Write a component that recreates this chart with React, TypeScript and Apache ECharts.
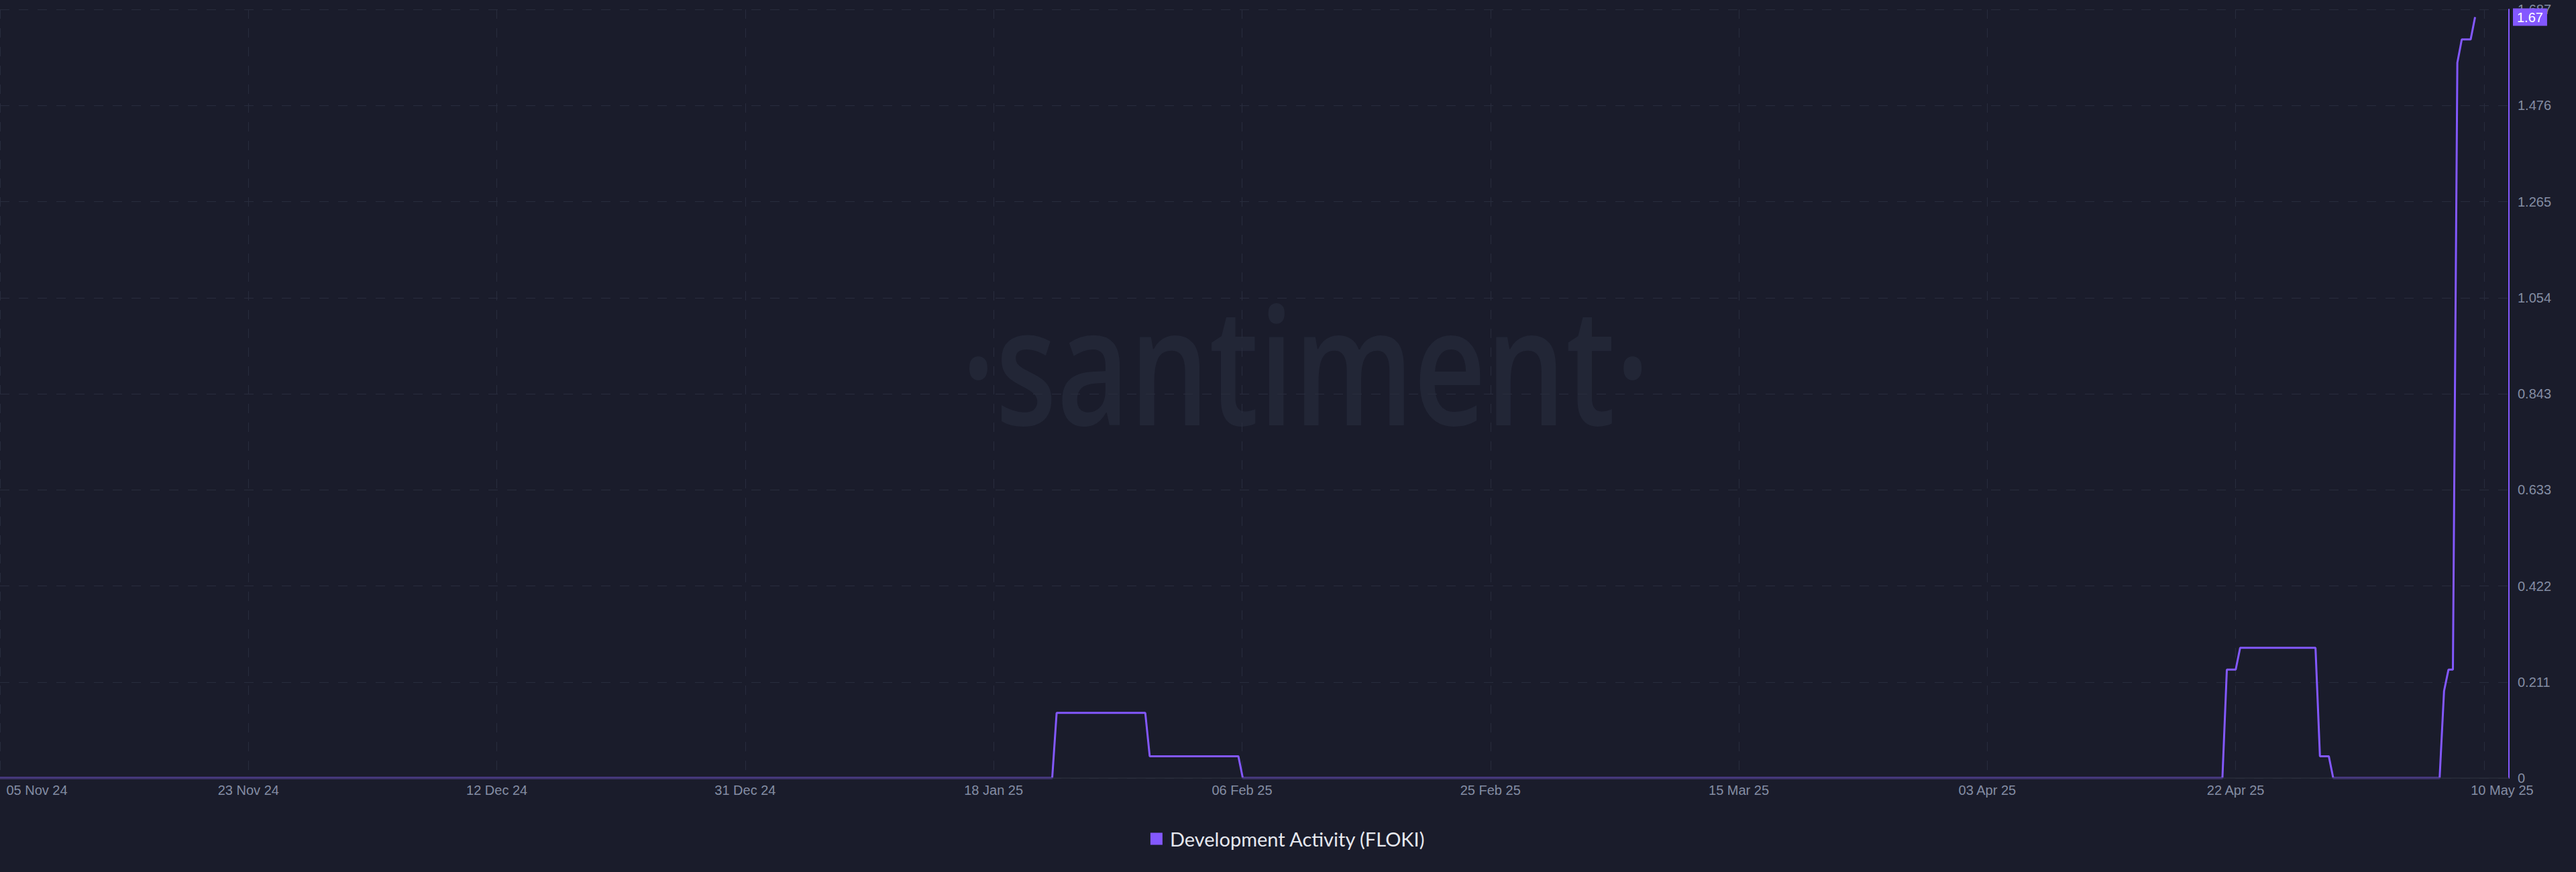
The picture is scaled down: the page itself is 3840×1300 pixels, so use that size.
import React, { useEffect, useRef } from 'react';
import * as echarts from 'echarts';

// ---- data ----
const START = '2024-11-05T00:00:00Z';

const pointTimes = [
  '2024-11-05 00:00',
  '2025-01-23 03:00',
  '2025-01-23 11:00',
  '2025-01-30 03:00',
  '2025-01-30 11:00',
  '2025-02-06 03:00',
  '2025-02-06 11:00',
  '2025-04-21 03:00',
  '2025-04-21 11:00',
  '2025-04-22 03:00',
  '2025-04-22 11:00',
  '2025-04-28 03:00',
  '2025-04-28 11:00',
  '2025-04-29 03:00',
  '2025-04-29 11:00',
  '2025-05-07 11:00',
  '2025-05-07 19:00',
  '2025-05-08 03:00',
  '2025-05-08 11:00',
  '2025-05-08 19:00',
  '2025-05-09 03:00',
  '2025-05-09 19:00',
  '2025-05-10 03:00',
];

const devActivity = [
  0, 0, 0.143, 0.143, 0.048, 0.048, 0, 0, 0.238, 0.238, 0.286, 0.286, 0.048,
  0.048, 0, 0, 0.191, 0.238, 0.238, 1.57, 1.621, 1.621, 1.67,
];

const xTickLabels = [
  '05 Nov 24', '23 Nov 24', '12 Dec 24', '31 Dec 24', '18 Jan 25', '06 Feb 25',
  '25 Feb 25', '15 Mar 25', '03 Apr 25', '22 Apr 25', '10 May 25',
];
const X_TICK_DAYS = 18.68;
const X_RANGE_DAYS = 188.67;

const yTickLabels = ['0', '0.211', '0.422', '0.633', '0.843', '1.054', '1.265', '1.476', '1.687'];
const Y_MAX = 1.687;

const SERIES_NAME = 'Development Activity (FLOKI)';

// ---- style ----
const BG = '#1a1c2b';
const PURPLE = '#8358ff';
const GRID = '#282c3d';
const LABEL = '#848da3';
const LABEL_FONT = "'Liberation Sans', Arial, sans-serif";

const toDays = (t: string) =>
  (Date.parse(t.replace(' ', 'T') + ':00Z') - Date.parse(START)) / 86400000;

export default function App() {
  const ref = useRef<HTMLDivElement>(null);

  useEffect(() => {
    if (!ref.current) return;
    const chart = echarts.init(ref.current, null, { renderer: 'svg' });
    const yInterval = Y_MAX / (yTickLabels.length - 1);
    const data = pointTimes.map((t, i) => [toDays(t), devActivity[i]]);
    const lastValue = devActivity[devActivity.length - 1];

    chart.setOption({
      animation: false,
      backgroundColor: BG,
      grid: { left: 0, right: 100, top: 14, bottom: 140 },
      graphic: [
        {
          type: 'text',
          x: 1946,
          y: 540,
          scaleX: 0.77,
          silent: true,
          z: -10,
          style: {
            text: '·santiment·',
            fill: '#222636',
            fontSize: 243,
            fontFamily: "'Open Sans', sans-serif",
            fontWeight: 600,
            align: 'center',
            verticalAlign: 'middle',
          },
        },
      ],
      legend: {
        data: [SERIES_NAME],
        left: 'center',
        top: 1236,
        padding: 0,
        icon: 'rect',
        itemWidth: 18,
        itemHeight: 18,
        textStyle: {
          color: '#e6e8ef',
          fontSize: 29,
          fontFamily: "Lato, 'Noto Sans', sans-serif",
          padding: [0, 0, 0, 6],
        },
      },
      xAxis: {
        type: 'value',
        min: 0,
        max: X_RANGE_DAYS,
        interval: X_TICK_DAYS,
        axisLine: { show: false },
        axisTick: { show: false },
        splitLine: { show: true, lineStyle: { color: GRID, width: 1, type: [14, 14] } },
        axisLabel: {
          showMaxLabel: false,
          margin: 8,
          color: LABEL,
          fontSize: 20,
          fontFamily: LABEL_FONT,
          formatter: (v: number) => {
            const i = Math.round(v / X_TICK_DAYS);
            const s = xTickLabels[i] ?? '';
            if (i === 0) return `{first|${s}}`;
            if (i === xTickLabels.length - 1) return `{last|${s}}`;
            return s;
          },
          rich: {
            first: { padding: [0, 0, 0, 110], color: LABEL, fontSize: 20, fontFamily: LABEL_FONT },
            last: { padding: [0, 0, 0, 54], color: LABEL, fontSize: 20, fontFamily: LABEL_FONT },
          },
        },
      },
      yAxis: {
        type: 'value',
        position: 'right',
        min: 0,
        max: Y_MAX,
        interval: yInterval,
        axisLine: { show: true, onZero: false, lineStyle: { color: PURPLE, width: 2 } },
        axisTick: { show: false },
        splitLine: { show: true, lineStyle: { color: GRID, width: 1, type: [14, 14] } },
        axisLabel: {
          margin: 13,
          color: LABEL,
          fontSize: 20,
          fontFamily: LABEL_FONT,
          formatter: (v: number) => yTickLabels[Math.round(v / yInterval)] ?? '',
        },
      },
      series: [
        {
          name: SERIES_NAME,
          type: 'line',
          data,
          showSymbol: false,
          symbol: 'none',
          color: PURPLE,
          lineStyle: { color: PURPLE, width: 3 },
          markLine: {
            silent: true,
            symbol: ['none', 'none'],
            animation: false,
            data: [
              {
                yAxis: 0,
                lineStyle: { color: '#2a2d3b', width: 1.5, type: 'solid' },
                label: { show: false },
              },
              {
                yAxis: lastValue,
                lineStyle: { color: 'rgba(0,0,0,0)', width: 0, type: 'solid' },
                label: {
                  show: true,
                  position: 'end',
                  distance: 6,
                  formatter: () => String(lastValue),
                  color: '#ffffff',
                  opacity: 1,
                  fontSize: 20,
                  fontFamily: LABEL_FONT,
                  backgroundColor: PURPLE,
                  padding: [3, 6, 3, 6],
                },
              },
            ],
          },
        },
      ],
    });

    return () => chart.dispose();
  }, []);

  return (
    <div
      ref={ref}
      style={{ position: 'fixed', left: 0, top: 0, width: 3840, height: 1300 }}
    />
  );
}
